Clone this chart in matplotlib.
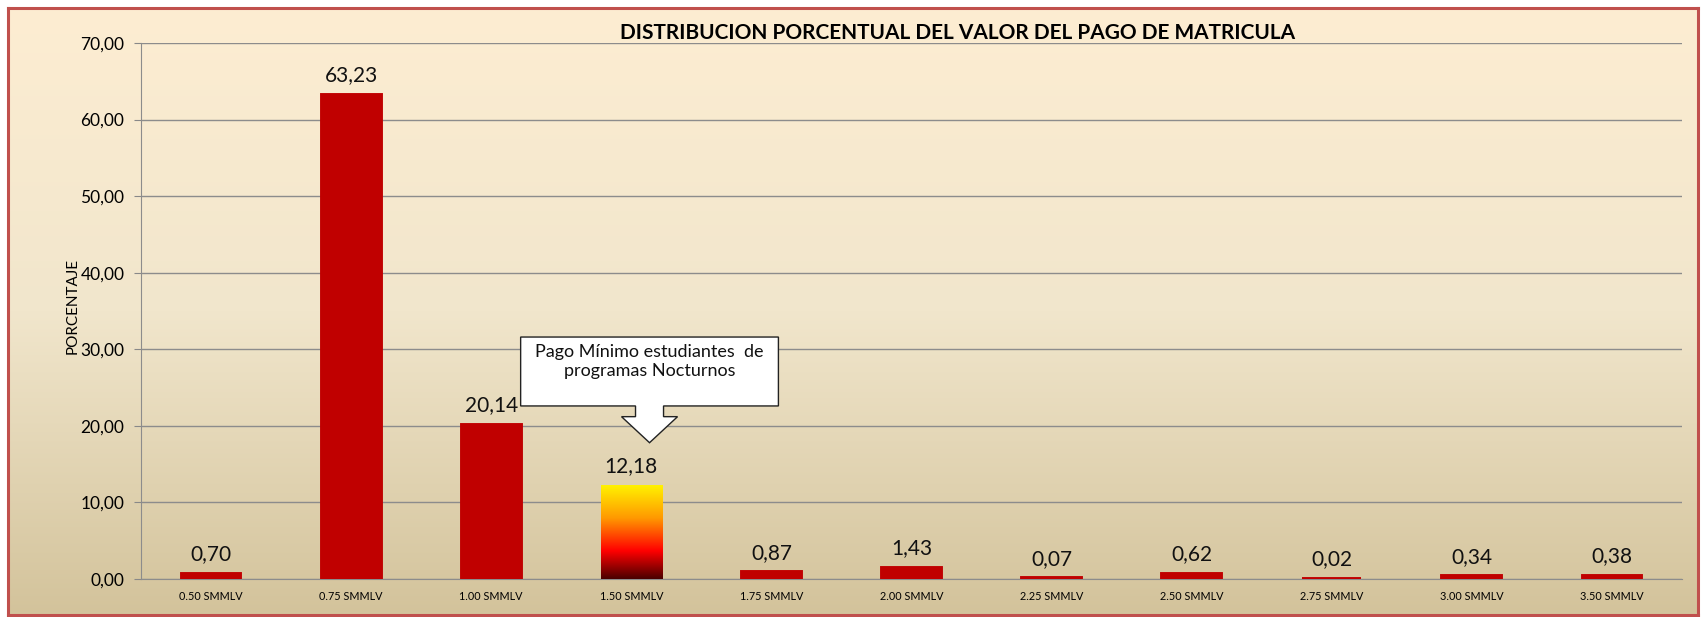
import numpy as np
import matplotlib.pyplot as plt
from matplotlib.colors import LinearSegmentedColormap
from matplotlib.patches import Polygon

plt.rcParams['font.family'] = ['Lato', 'DejaVu Sans']

categories = ['0.50 SMMLV', '0.75 SMMLV', '1.00 SMMLV', '1.50 SMMLV', '1.75 SMMLV',
              '2.00 SMMLV', '2.25 SMMLV', '2.50 SMMLV', '2.75 SMMLV', '3.00 SMMLV',
              '3.50 SMMLV']
porcentaje = [0.70, 63.23, 20.14, 12.18, 0.87, 1.43, 0.07, 0.62, 0.02, 0.34, 0.38]
highlight = '1.50 SMMLV'
y_ticks = [0, 10, 20, 30, 40, 50, 60, 70]
callout_text = 'Pago Mínimo estudiantes  de\nprogramas Nocturnos'

W, H = 1702, 617
fig = plt.figure(figsize=(W / 100, H / 100), dpi=100)
fig.patch.set_facecolor('white')

# background gradient inside red border
bg = fig.add_axes([8 / W, 2 / H, (1698 - 8) / W, (615 - 8) / H])
bg_cmap = LinearSegmentedColormap.from_list('bg', ['#FDEDD2', '#F1E6CC', '#D3C39B'])
bg.imshow(np.linspace(0, 1, 256).reshape(-1, 1), aspect='auto', cmap=bg_cmap,
          extent=[0, 1, 0, 1], origin='upper')
bg.set_xlim(0, 1)
bg.set_ylim(0, 1)
bg.set_xticks([])
bg.set_yticks([])
for s in bg.spines.values():
    s.set_color('#C0504D')
    s.set_linewidth(2.2)

ax = fig.add_axes([141 / W, (H - 579) / H, (1682 - 141) / W, (579 - 43) / H])
ax.patch.set_alpha(0)

x = np.arange(len(categories))
colors = ['#C00000' if c != highlight else 'none' for c in categories]
bars = ax.bar(x, porcentaje, width=0.42, color=colors, edgecolor=colors,
              linewidth=2.8, zorder=3)

# gradient fill for the highlighted bar
grad = LinearSegmentedColormap.from_list(
    'fire', [(0, '#4A0000'), (0.3, '#FF0000'), (0.65, '#FF9900'), (1, '#FFF200')])
hi = categories.index(highlight)
b = bars[hi]
ax.imshow(np.linspace(0, 1, 256).reshape(-1, 1), aspect='auto', cmap=grad,
          origin='lower', zorder=3,
          extent=[b.get_x() - 0.008, b.get_x() + b.get_width() + 0.008, 0, porcentaje[hi]])

for xi, v in zip(x, porcentaje):
    ax.annotate(f'{v:.2f}'.replace('.', ','), (xi, v), xytext=(0, 7),
                textcoords='offset points', ha='center', va='bottom',
                fontsize=15, color='#111111', zorder=4)

ax.set_xlim(-0.5, len(categories) - 0.5)
ax.set_ylim(0, 70)
ax.set_yticks(y_ticks)
ax.set_yticklabels([f'{t:.2f}'.replace('.', ',') for t in y_ticks], fontsize=12.5)
ax.set_xticks(x)
ax.set_xticklabels(categories, fontsize=7.8)
ax.tick_params(axis='x', length=0, pad=9)
ax.tick_params(axis='y', length=5, color='#888888', pad=7)
ax.grid(axis='y', color='#8C8C8C', linewidth=1, zorder=1)
ax.set_axisbelow(True)
for side in ['top', 'right']:
    ax.spines[side].set_visible(False)
ax.spines['left'].set_color('#8C8C8C')
ax.spines['bottom'].set_color('#8C8C8C')
ax.set_ylabel('PORCENTAJE', fontsize=11)
ax.yaxis.set_label_coords(-0.040, 0.51)

ax.set_title('DISTRIBUCION PORCENTUAL DEL VALOR DEL PAGO DE MATRICULA',
             fontsize=15, fontweight='bold', x=0.53, pad=3)

# callout above the highlighted bar
cx = hi + 0.13
shape = [(hi - 0.79, 31.6), (hi + 1.05, 31.6), (hi + 1.05, 22.6),
         (cx + 0.10, 22.6), (cx + 0.10, 21.2), (cx + 0.20, 21.2),
         (cx, 17.8), (cx - 0.20, 21.2), (cx - 0.10, 21.2),
         (cx - 0.10, 22.6), (hi - 0.79, 22.6)]
ax.add_patch(Polygon(shape, closed=True, facecolor='white', edgecolor='#222222',
                     linewidth=1, zorder=5))
ax.text(hi + 0.13, 28.4, callout_text, ha='center', va='center', fontsize=13,
        linespacing=1.2, color='#111111', zorder=6)

fig.savefig('out.png', dpi=100)
